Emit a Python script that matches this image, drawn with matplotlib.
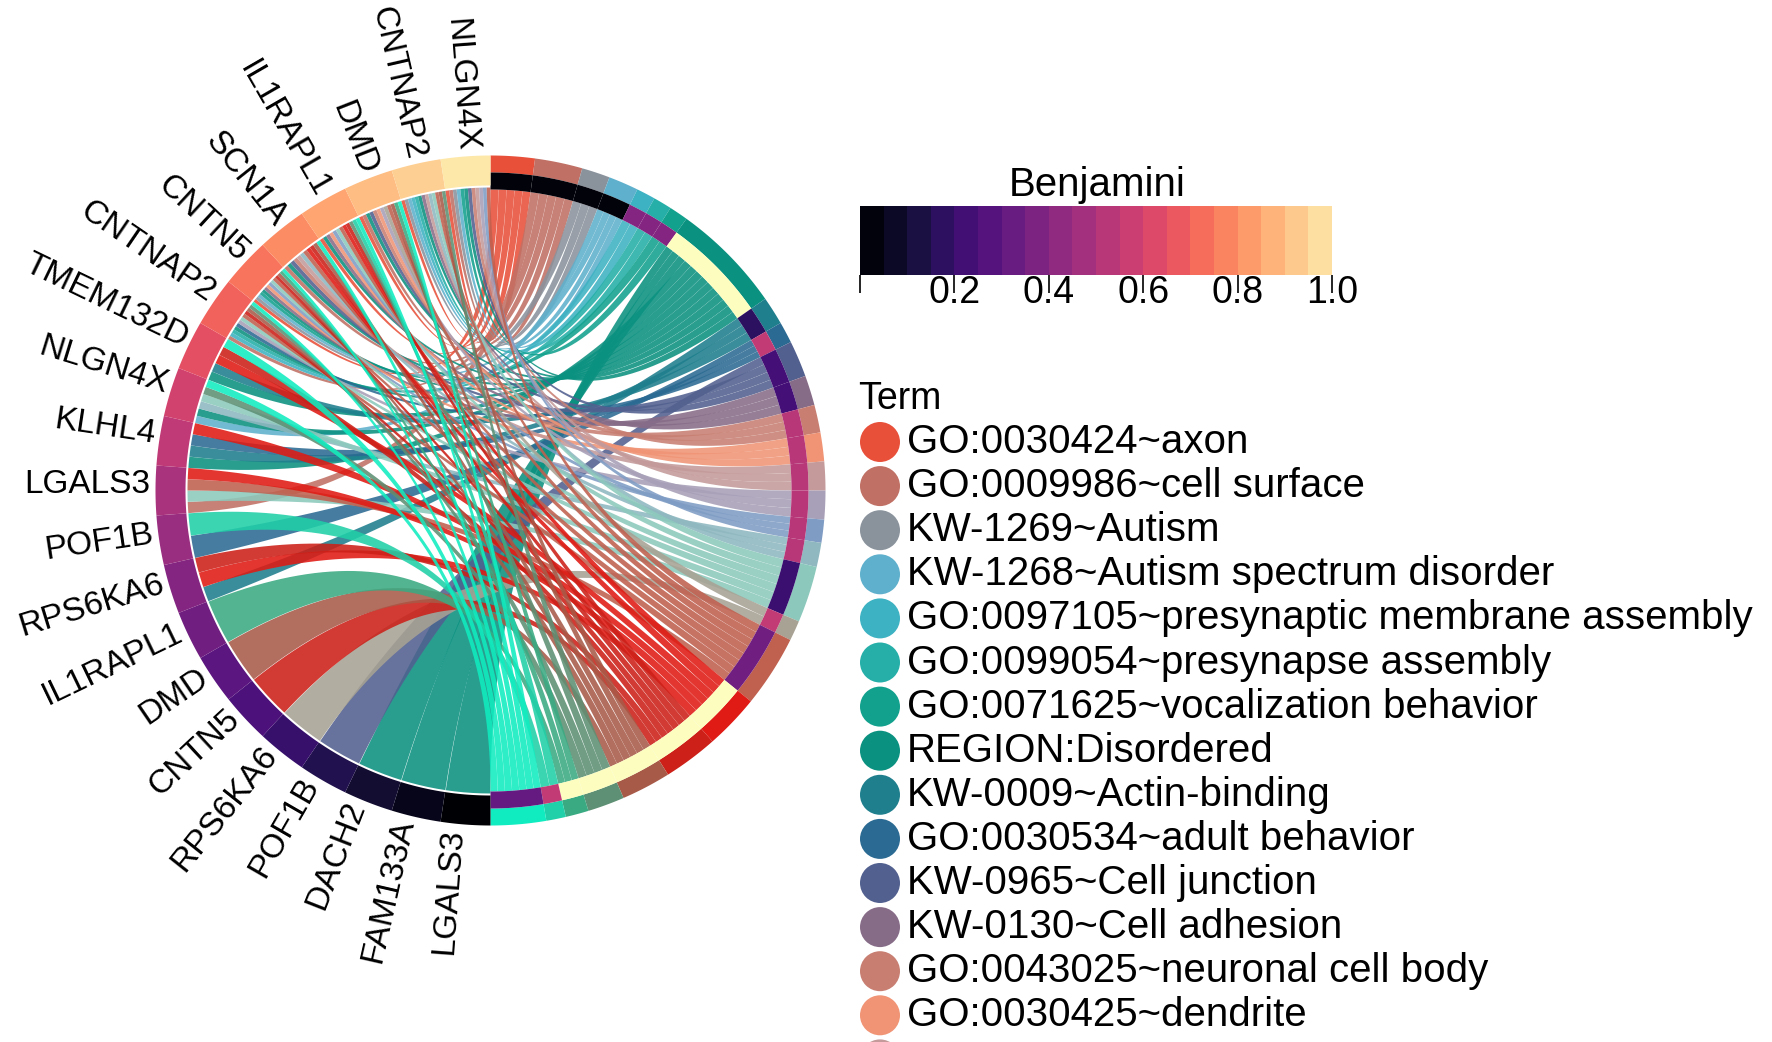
import numpy as np
import matplotlib
matplotlib.use("Agg")
import matplotlib.pyplot as plt
from matplotlib.patches import Polygon, Circle

plt.rcParams['font.family'] = ['Liberation Sans', 'DejaVu Sans']

# genes, clockwise from the bottom of the left half
genes = ["LGALS3", "FAM133A", "DACH2", "POF1B", "RPS6KA6", "CNTN5", "DMD",
         "IL1RAPL1", "RPS6KA6", "POF1B", "LGALS3", "KLHL4", "NLGN4X", "TMEM132D",
         "CNTNAP2", "CNTN5", "SCN1A", "IL1RAPL1", "DMD", "CNTNAP2", "NLGN4X"]
gene_values = [0.0, 0.05, 0.09, 0.14, 0.19, 0.24, 0.28, 0.33, 0.38, 0.43, 0.47,
               0.52, 0.57, 0.62, 0.67, 0.71, 0.76, 0.81, 0.86, 0.90, 0.95]

# terms, clockwise from the top of the right half
legend_terms = ["GO:0030424~axon", "GO:0009986~cell surface", "KW-1269~Autism",
                "KW-1268~Autism spectrum disorder",
                "GO:0097105~presynaptic membrane assembly",
                "GO:0099054~presynapse assembly", "GO:0071625~vocalization behavior",
                "REGION:Disordered", "KW-0009~Actin-binding",
                "GO:0030534~adult behavior", "KW-0965~Cell junction",
                "KW-0130~Cell adhesion", "GO:0043025~neuronal cell body",
                "GO:0030425~dendrite"]
term_colors = ["#e8503a", "#c07064", "#8a929c", "#5fb0cc", "#3db2c2", "#25afa8", "#12a18d",
               "#0b9180", "#1f7f8d", "#2b6a92", "#52608f", "#876c88", "#c87f72", "#f09475",
               "#c49a9a", "#a8a0b8", "#7f9cc4", "#8fb8c0", "#8cc9bc", "#a8a294", "#c0604f",
               "#e01a14", "#cc2018", "#a85a48", "#5d9074", "#3aaa82", "#20d0a8", "#10ecc0"]
term_width = [7.65, 8.25, 4.9, 5.2, 3.3, 3.2, 3.3, 19.3, 4.9, 3.7, 6.3, 5.2, 4.8, 5.0,
              5.0, 5.0, 4.0, 4.2, 9.8, 3.5, 12.5, 9.5, 9.5, 8.6, 6.4, 4.0, 3.4, 9.6]
term_benjamini = [0.02, 0.02, 0.02, 0.02, 0.38, 0.38, 0.38, 1.0, 0.17, 0.53, 0.22, 0.22,
                  0.5, 0.5, 0.5, 0.5, 0.5, 0.5, 0.2, 0.53, 0.33, 1.0, 1.0, 1.0, 1.0, 1.0,
                  0.53, 0.3]
# strands in the order they leave each term sector, clockwise
term_genes = [[15, 17, 18, 19, 20], [10, 14, 16, 18, 20], [15, 19, 20], [12, 15, 19, 20],
              [14, 19], [14, 19], [15, 20],
              [0, 1, 2, 11, 12, 13, 14, 15, 16, 17, 18, 19, 20],
              [8, 11, 13], [9, 11, 14], [3, 16, 18, 20], [15, 17, 19], [16, 18, 20],
              [15, 17, 18], [16, 19, 20], [14, 18, 20], [15, 17, 20], [12, 16, 19],
              [19, 17, 15, 14, 12, 10], [18, 4], [20, 19, 18, 17, 16, 15, 14, 10],
              [17, 16, 13, 11, 10, 8], [17, 16, 15, 14, 13, 8, 5], [19, 18, 16, 15, 14, 6],
              [19, 17, 14, 12], [18, 15, 7], [17, 9], [18, 17, 16, 15, 14, 13, 12]]

bar_ticks = [0.0, 0.2, 0.4, 0.6, 0.8, 1.0]
bar_labels = ["", "0.2", "0.4", "0.6", "0.8", "1.0"]

W, H = 1772, 1042
cx, cy = 490.5, H - 490.5
R_out = 335
cmap = plt.get_cmap("magma")


def pt(angle, r):
    # angle in degrees, clockwise from the top
    a = np.radians(angle)
    return np.column_stack([cx + r * np.sin(a), cy + r * np.cos(a)])


def ring(ax, a1, a2, r1, r2, color):
    th = np.linspace(a1, a2, 30)
    xy = np.vstack([pt(th, r2), pt(th[::-1], r1)])
    ax.add_patch(Polygon(xy, closed=True, facecolor=color, edgecolor="none"))


def curve(p0, p1):
    # quadratic bezier pulled through the centre of the circle
    t = np.linspace(0, 1, 60)[:, None]
    c = np.array([[cx, cy]])
    return (1 - t) ** 2 * p0 + 2 * t * (1 - t) * c + t ** 2 * p1


fig = plt.figure(figsize=(W / 100, H / 100), dpi=100)
ax = fig.add_axes([0, 0, 1, 1])
ax.set_xlim(0, W)
ax.set_ylim(0, H)
ax.axis("off")

# sector limits
gene_step = 180 / len(genes)
gene_start = [180 + i * gene_step for i in range(len(genes))]
term_edges = np.concatenate([[0], np.cumsum(term_width)])
term_edges = term_edges * 180 / term_edges[-1]

# how each gene sector is shared out between its terms
gene_links = {i: [] for i in range(len(genes))}
for t, members in enumerate(term_genes):
    for g in members:
        gene_links[g].append(t)

R_term = 301
R_gene = 303
for t, members in enumerate(term_genes):
    a0, a1 = term_edges[t], term_edges[t + 1]
    step = (a1 - a0) / len(members)
    for k, g in enumerate(members):
        ta = a0 + k * step
        tb = ta + step * 0.99
        share = gene_step / len(gene_links[g])
        ga = gene_start[g] + gene_links[g].index(t) * share
        gb = ga + share * 0.99
        th_t = np.linspace(ta, tb, 6)
        th_g = np.linspace(ga, gb, 6)
        # the far end of the term arc joins the near end of the gene arc
        xy = np.vstack([pt(th_t, R_term),
                        curve(pt([tb], R_term), pt([ga], R_gene)),
                        pt(th_g, R_gene),
                        curve(pt([gb], R_gene), pt([ta], R_term))])
        ax.add_patch(Polygon(xy, closed=True, facecolor=term_colors[t],
                             edgecolor="none", alpha=0.88))

# outer tracks
for t in range(len(term_width)):
    a0, a1 = term_edges[t], term_edges[t + 1]
    ring(ax, a0, a1, 318, R_out, term_colors[t])
    ring(ax, a0, a1, 301, 318, cmap(term_benjamini[t]))

for i, name in enumerate(genes):
    a0 = gene_start[i]
    ring(ax, a0, a0 + gene_step, 305, R_out, cmap(gene_values[i]))
    mid = a0 + gene_step / 2
    # the labels drift clockwise towards the bottom of the circle
    xy = pt([mid + (360 - mid) / 90], 340)[0]
    ax.text(xy[0], xy[1], name, fontsize=24, ha="right", va="center",
            rotation=270 - mid, rotation_mode="anchor")

# colour bar
bar_left, bar_right, bar_top, bar_bottom = 860, 1332, 206, 275
cax = fig.add_axes([bar_left / W, 1 - bar_bottom / H, (bar_right - bar_left) / W,
                    (bar_bottom - bar_top) / H])
bins = (np.arange(20) + 0.5) / 20 * 0.96
cax.imshow(bins[None, :], cmap=cmap, vmin=0, vmax=1, aspect="auto", extent=[0, 1, 0, 1])
cax.set_yticks([])
cax.set_xticks(bar_ticks)
cax.set_xticklabels(bar_labels, fontsize=27)
cax.tick_params(axis="x", length=13, width=1.2, pad=-13)
for s in cax.spines.values():
    s.set_visible(False)
ax.text(1097, H - 185, "Benjamini", fontsize=29, ha="center", va="center")

# legend
ax.text(858, H - 399, "Term", fontsize=27, ha="left", va="center")
row_y = 442
row_step = 44.1
for i, label in enumerate(legend_terms):
    y = H - (row_y + i * row_step)
    ax.add_patch(Circle((880, y), 20, facecolor=term_colors[i], edgecolor="none"))
    ax.text(907, y, label, fontsize=29, ha="left", va="center")
ax.add_patch(Circle((880, H - (row_y + 14 * row_step)), 20,
                    facecolor=term_colors[14], edgecolor="none"))

fig.savefig("out.png", dpi=100)
